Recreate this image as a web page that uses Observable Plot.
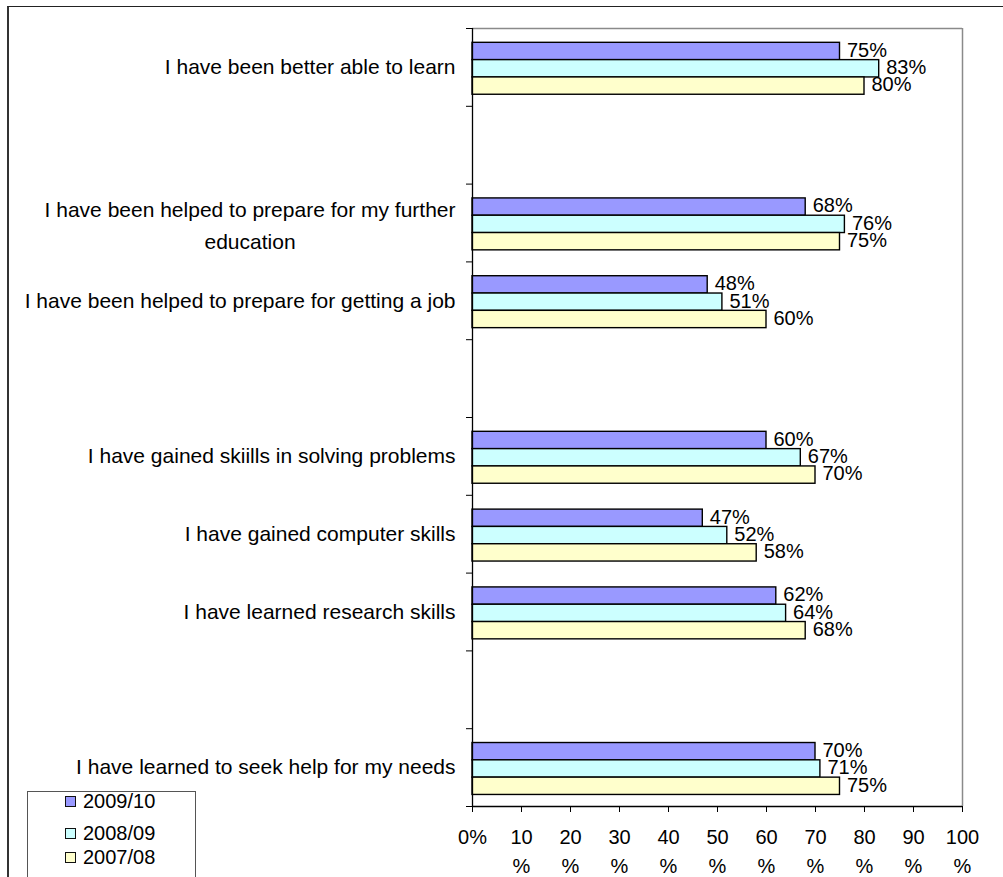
<!DOCTYPE html>
<html>
<head>
<meta charset="utf-8">
<script src="https://cdn.jsdelivr.net/npm/d3@7"></script>
<script src="https://cdn.jsdelivr.net/npm/@observablehq/plot@0.6"></script>
<style>
  body { margin: 0; background: #fff; font-family: "Liberation Sans", Arial, sans-serif; }
  #outer { position: absolute; left: 7px; top: 6px; width: 1100px; height: 1000px;
           border-left: 2px solid #333; border-top: 1px solid #222; }
  #chart { position: absolute; left: 0; top: 0; }
  #legend { position: absolute; left: 27px; top: 791px; width: 167px; height: 110px;
            border: 1px solid #555; background: #fff; }
  .item { position: absolute; left: 0; height: 24px; display: flex; align-items: center;
          font-size: 20px; color: #000; line-height: 24px; }
  .sw { width: 11px; height: 11px; border: 1.5px solid #111; margin-left: 37px; margin-right: 7px; box-sizing: border-box; }
</style>
</head>
<body>
<div id="outer"></div>
<div id="chart"></div>
<div id="legend"></div>
<script>
// ---- data ----
const categories = [
  "I have been better able to learn",
  "",
  "I have been helped to prepare for my further\neducation",
  "I have been helped to prepare for getting a job",
  " ",
  "I have gained skiills in solving problems",
  "I have gained computer skills",
  "I have learned research skills",
  "  ",
  "I have learned to seek help for my needs"
];
const series = ["2009/10", "2008/09", "2007/08"];
const seriesColors = ["#9999FF", "#CCFFFF", "#FFFFCC"];
const values2009_10 = [75, null, 68, 48, null, 60, 47, 62, null, 70];
const values2008_09 = [83, null, 76, 51, null, 67, 52, 64, null, 71];
const values2007_08 = [80, null, 75, 60, null, 70, 58, 68, null, 75];
const xTicks = [0, 10, 20, 30, 40, 50, 60, 70, 80, 90, 100];
const xTickLabels = ["0%", "10\n%", "20\n%", "30\n%", "40\n%", "50\n%", "60\n%", "70\n%", "80\n%", "90\n%", "100\n%"];

// ---- derived table ----
const seriesValues = [values2009_10, values2008_09, values2007_08];
const rows = [];
categories.forEach((c, i) => {
  seriesValues.forEach((vals, k) => {
    if (vals[i] != null) rows.push({cat: c, i, k, series: series[k], value: vals[i]});
  });
});
const labelRows = categories.map((c, i) => ({cat: c.trim(), i})).filter(d => d.cat !== "");
const singleLabels = labelRows.filter(d => !d.cat.includes("\n"));
const multiLabels = labelRows.filter(d => d.cat.includes("\n"));

const FONT = "\"Liberation Sans\", Arial, sans-serif";
const LABEL_SIZE = 21;
const ctx = document.createElement("canvas").getContext("2d");
ctx.font = LABEL_SIZE + "px " + FONT;
const widest = s => d3.max(s.split("\n"), l => ctx.measureText(l).width);

// layout within each category band (fractions of one band)
const groupTop = 0.184, barStep = 0.2225;
const y1 = d => d.i + groupTop + d.k * barStep;
const y2 = d => d.i + groupTop + (d.k + 1) * barStep;
const yc = d => d.i + groupTop + (d.k + 0.5) * barStep;

const labelGap = 17;

const marks = [
  Plot.ruleY([0], {stroke: "#8a8a8a", strokeWidth: 1.5}),
  Plot.ruleX([100], {stroke: "#8a8a8a", strokeWidth: 1.5}),
  Plot.rectX(rows, {x1: 0, x2: "value", y1, y2, fill: "series", stroke: "#000", strokeWidth: 1.4}),
  Plot.text(rows, {x: "value", y: yc, text: d => d.value + "%", textAnchor: "start", dx: 7, dy: -1,
                   fontSize: 20, fill: "#000"}),
  Plot.text(singleLabels, {x: () => 0, y: d => d.i + 0.5, text: "cat", textAnchor: "end", dx: -labelGap,
                           fontSize: LABEL_SIZE, fill: "#000"}),
  ...multiLabels.map(m => Plot.text([m], {x: () => 0, y: d => d.i + 0.5, text: "cat", textAnchor: "middle",
                           dx: -labelGap - widest(m.cat) / 2, lineHeight: 1.5, fontSize: LABEL_SIZE, fill: "#000"})),
  Plot.axisY(d3.range(0, categories.length + 1), {tickSize: 6, tickFormat: () => "", label: null, stroke: "#000"}),
  Plot.axisX(xTicks, {tickSize: 6, tickPadding: 11, tickFormat: d => xTickLabels[xTicks.indexOf(d)],
                      fontSize: 20, lineHeight: 1.45, label: null, stroke: "#000", fill: "#000"}),
  Plot.ruleX([0], {stroke: "#000", strokeWidth: 1.3}),
  Plot.ruleY([categories.length], {stroke: "#000", strokeWidth: 1.3})
];

const chart = Plot.plot({
  width: 1003,
  height: 877,
  marginLeft: 472,
  marginRight: 41,
  marginTop: 28,
  marginBottom: 71,
  style: {background: "transparent", fontFamily: FONT, color: "#000"},
  x: {domain: [0, 100]},
  y: {domain: [0, categories.length], reverse: true},
  color: {domain: series, range: seriesColors},
  marks
});
document.getElementById("chart").appendChild(chart);

// ---- legend ----
const legend = document.getElementById("legend");
const legendTops = [-3, 29, 53];
series.forEach((s, k) => {
  const it = document.createElement("div");
  it.className = "item";
  it.style.top = legendTops[k] + "px";
  const sw = document.createElement("span");
  sw.className = "sw";
  sw.style.background = seriesColors[k];
  const t = document.createElement("span");
  t.textContent = s;
  it.appendChild(sw);
  it.appendChild(t);
  legend.appendChild(it);
});
</script>
</body>
</html>
